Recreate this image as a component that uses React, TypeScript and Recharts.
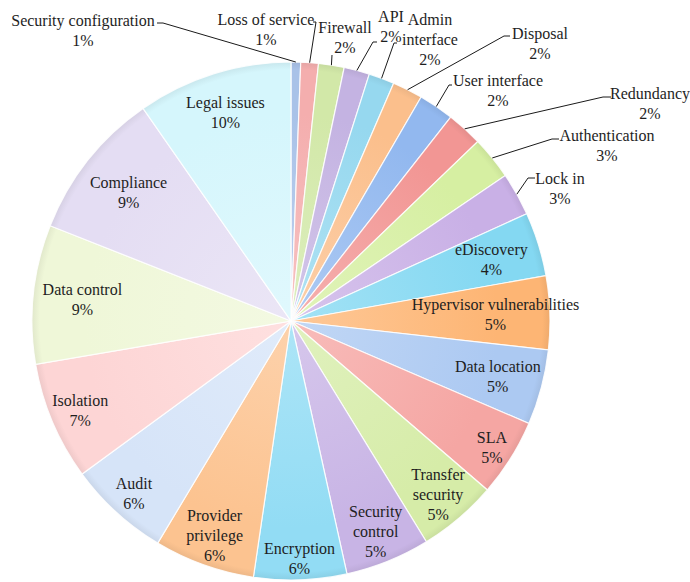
import React from 'react';
import { PieChart, Pie, Cell } from 'recharts';

// ---- data ----
const categories = [
  'Security configuration', 'Loss of service', 'Firewall', 'API', 'Admin interface', 'Disposal',
  'User interface', 'Redundancy', 'Authentication', 'Lock in', 'eDiscovery', 'Hypervisor vulnerabilities',
  'Data location', 'SLA', 'Transfer security', 'Security control', 'Encryption', 'Provider privilege',
  'Audit', 'Isolation', 'Data control', 'Compliance', 'Legal issues',
];
const values = [
  0.6, 1.1, 1.6, 1.6, 1.6, 1.9,
  2.2, 2.25, 2.7, 2.7, 4.0, 4.6,
  4.7, 4.85, 4.95, 5.3, 5.8, 6.3,
  6.35, 7.4, 8.7, 9.35, 9.7,
];
const colors = [
  '#A9C2E8', '#F4AEAE', '#D2E8A8', '#C4B3E2', '#96D8EF', '#FBBF8C',
  '#92B8EF', '#F29694', '#D6EFA2', '#C9B0E6', '#84D8F2', '#FDB574',
  '#ACC9F2', '#F5A6A3', '#D6ECA8', '#C8B4E5', '#92DCF4', '#FCC390',
  '#D6E4F8', '#FDD5D5', '#EFF7D8', '#E4DDF3', '#D5F6FC',
];

const tableData = categories.map((name, i) => ({ name, value: values[i] }));

// ---- layout (kept apart from data) ----
const WIDTH = 690;
const HEIGHT = 582;
const CX = 291;
const CY = 321;
const R = 259;
const RAD = Math.PI / 180;
const FONT = "'Liberation Serif', 'Times New Roman', serif";

const lineBreaks: Record<string, string[]> = {
  'Admin interface': ['Admin', 'interface'],
  'Transfer security': ['Transfer', 'security'],
  'Security control': ['Security', 'control'],
  'Provider privilege': ['Provider', 'privilege'],
};

const insideRadius: Record<string, number> = {
  'eDiscovery': 0.81,
  'Hypervisor vulnerabilities': 0.79,
  'Data location': 0.826,
  'SLA': 0.915,
  'Transfer security': 0.876,
  'Security control': 0.873,
  'Encryption': 0.915,
  'Provider privilege': 0.877,
  'Audit': 0.9,
  'Isolation': 0.884,
  'Data control': 0.81,
  'Compliance': 0.8,
  'Legal issues': 0.846,
};

// text block centre and leader elbow points, relative to pie centre
const outsideLayout: Record<string, { dx: number; dy: number; elbow: [number, number][] }> = {
  'Security configuration': { dx: -208, dy: -291.5, elbow: [[-134, -298], [-128, -298]] },
  'Loss of service': { dx: -25, dy: -292.5, elbow: [[22, -299], [25, -299]] },
  'Firewall': { dx: 54, dy: -284.5, elbow: [[41, -266]] },
  'API': { dx: 100, dy: -295.5, elbow: [[86, -279], [82, -279]] },
  'Admin interface': { dx: 139, dy: -282, elbow: [[106, -278], [103, -278]] },
  'Disposal': { dx: 249, dy: -278, elbow: [[219, -285], [213, -285]] },
  'User interface': { dx: 207, dy: -231, elbow: [[161, -236], [158, -236]] },
  'Redundancy': { dx: 359, dy: -218, elbow: [[320, -224], [312, -224]] },
  'Authentication': { dx: 316, dy: -176, elbow: [[268, -182], [261, -182]] },
  'Lock in': { dx: 269, dy: -133, elbow: [[244, -143], [237, -143]] },
};

function lighten(hex: string, amt: number) {
  const n = parseInt(hex.slice(1), 16);
  const r = (n >> 16) & 255, g = (n >> 8) & 255, b = n & 255;
  const f = (c: number) => Math.round(c + (255 - c) * amt);
  return `rgb(${f(r)},${f(g)},${f(b)})`;
}
function darken(hex: string, amt: number) {
  const n = parseInt(hex.slice(1), 16);
  const r = (n >> 16) & 255, g = (n >> 8) & 255, b = n & 255;
  const f = (c: number) => Math.round(c * (1 - amt));
  return `rgb(${f(r)},${f(g)},${f(b)})`;
}

const renderLabel = (props: any) => {
  const { cx, cy, midAngle, outerRadius, percent } = props;
  const index = typeof props.index === 'number' ? props.index : categories.indexOf(props.name);
  const name = categories[index];
  const lines = [...(lineBreaks[name] ?? [name]), `${Math.round(percent * 100)}%`];
  const cos = Math.cos(-midAngle * RAD);
  const sin = Math.sin(-midAngle * RAD);
  let x: number;
  let y: number;
  let leader: React.ReactNode = null;
  const out = outsideLayout[name];
  if (out) {
    x = cx + out.dx;
    y = cy + out.dy;
    const ex = cx + outerRadius * cos;
    const ey = cy + outerRadius * sin;
    const pts = out.elbow.map(([a, b]) => `${cx + a},${cy + b}`).join(' ') + ` ${ex},${ey}`;
    leader = <polyline points={pts} fill="none" stroke="#1a1a1a" strokeWidth={1} />;
  } else {
    const r = outerRadius * (insideRadius[name] ?? 0.85);
    x = cx + r * cos;
    y = cy + r * sin;
  }
  const top = y - (lines.length - 1) * 10;
  return (
    <g key={`lbl-${index}`}>
      {leader}
      <text
        x={x}
        y={top}
        textAnchor="middle"
        dominantBaseline="central"
        fontFamily={FONT}
        fontSize={16}
        fill="#1e1e1e"
      >
        {lines.map((t, i) => (
          <tspan key={i} x={x} y={top + i * 20}>
            {t}
          </tspan>
        ))}
      </text>
    </g>
  );
};

export default function App() {
  return (
    <div style={{ position: 'absolute', left: 0, top: 0, width: WIDTH, height: HEIGHT, background: '#fff' }}>
      <PieChart width={WIDTH} height={HEIGHT} margin={{ top: 0, right: 0, bottom: 0, left: 0 }}>
        <defs>
          {colors.map((c, i) => (
            <radialGradient key={i} id={`sg${i}`} gradientUnits="userSpaceOnUse" cx={CX} cy={CY} r={R}>
              <stop offset="0%" stopColor={lighten(c, 0.25)} />
              <stop offset="80%" stopColor={c} />
              <stop offset="97%" stopColor={c} />
              <stop offset="100%" stopColor={darken(c, 0.06)} />
            </radialGradient>
          ))}
        </defs>
        <Pie
          data={tableData}
          dataKey="value"
          nameKey="name"
          cx={CX}
          cy={CY}
          outerRadius={R}
          innerRadius={0}
          startAngle={90}
          endAngle={-270}
          stroke="rgba(255,255,255,0.85)"
          strokeWidth={1.2}
          label={renderLabel}
          labelLine={false}
          isAnimationActive={false}
        >
          {tableData.map((d, i) => (
            <Cell key={d.name} fill={`url(#sg${i})`} />
          ))}
        </Pie>
      </PieChart>
    </div>
  );
}
